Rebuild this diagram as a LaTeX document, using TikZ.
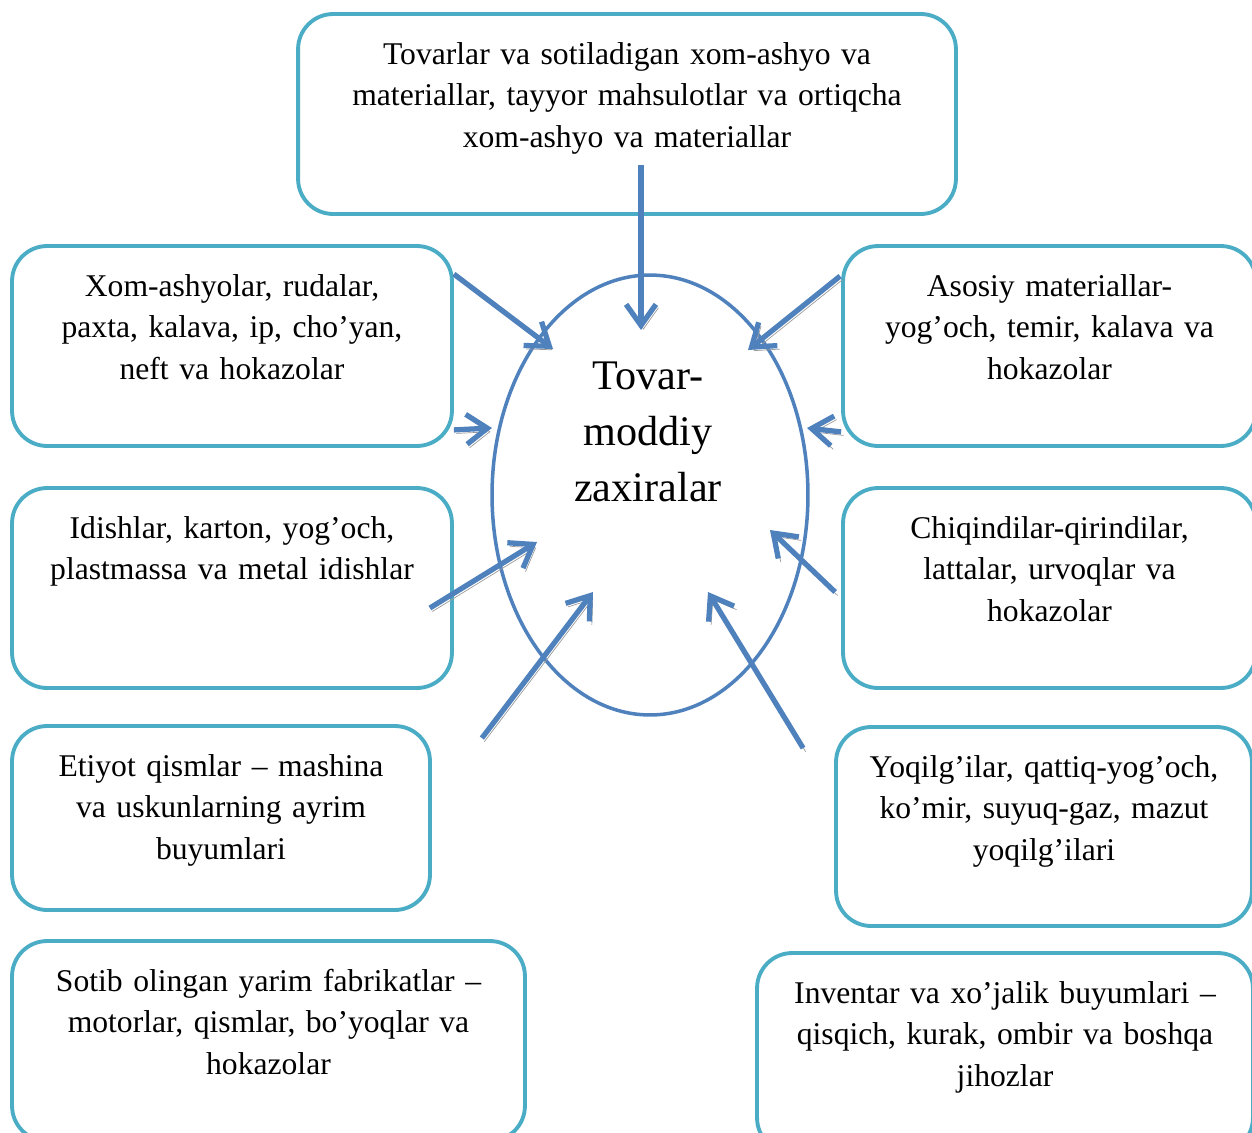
\documentclass[tikz,border=0pt]{standalone}
\usepackage{fontspec}
\setmainfont{Liberation Serif}
\usetikzlibrary{shapes.geometric,arrows.meta,calc}
\definecolor{boxline}{HTML}{4BACC6}
\definecolor{arrowblue}{HTML}{4F81BD}
\definecolor{shadowgray}{HTML}{9A9A9A}
\tikzset{
    itembox/.style={draw=boxline, line width=2.2pt, rounded corners=20pt, inner sep=0pt,
        align=center, text height=1cm, font=\fontsize{18}{23.8}\selectfont},
    flow/.style={draw=arrowblue, line width=3pt, -{Straight Barb[length=12pt,width=17pt]},
        preaction={draw=shadowgray, transform canvas={shift={(1.4pt,-2pt)}}}},
}
\begin{document}
\begin{tikzpicture}[x=0.02cm, y=-0.02cm]
        \useasboundingbox (0,0) rectangle (1252,1133);
        \node[itembox, text width=13.16cm, text depth=3cm] (supply) at (627,114)
            {Tovarlar va sotiladigan xom-ashyo va\\materiallar, tayyor mahsulotlar va ortiqcha\\xom-ashyo va materiallar};
        \node[itembox, text width=8.8cm, text depth=3cm] (raw) at (232,346)
            {Xom-ashyolar, rudalar,\\paxta, kalava, ip, cho’yan,\\neft va hokazolar};
        \node[itembox, text width=8.26cm, text depth=3cm] (basic) at (1049.5,346)
            {Asosiy materiallar-\\yog’och, temir, kalava va\\hokazolar};
        \node[itembox, text width=8.8cm, text depth=3cm] (tare) at (232,588)
            {Idishlar, karton, yog’och,\\plastmassa va metal idishlar};
        \node[itembox, text width=8.26cm, text depth=3cm] (scrap) at (1049.5,588)
            {Chiqindilar-qirindilar,\\lattalar, urvoqlar va\\hokazolar};
        \node[itembox, text width=8.36cm, text depth=2.68cm] (spare) at (221,818)
            {Etiyot qismlar – mashina\\va uskunlarning ayrim\\buyumlari};
        \node[itembox, text width=8.32cm, text depth=2.98cm] (fuel) at (1044,826.5)
            {Yoqilg’ilar, qattiq-yog’och,\\ko’mir, suyuq-gaz, mazut\\yoqilg’ilari};
        \node[itembox, text width=10.26cm, text depth=3cm] (semi) at (268.5,1041)
            {Sotib olingan yarim fabrikatlar –\\motorlar, qismlar, bo’yoqlar va\\hokazolar};
        \node[itembox, text width=9.92cm, text depth=3cm] (tools) at (1005,1053)
            {Inventar va xo’jalik buyumlari –\\qisqich, kurak, ombir va boshqa\\jihozlar};
        \node[ellipse, draw=arrowblue, line width=2pt, inner sep=0pt,
            minimum width=6.32cm, minimum height=8.8cm] (zax) at (650,495) {};
        \node[align=center, font=\fontsize{24}{31.7}\selectfont] (core) at (648,432)
            {Tovar-\\moddiy\\zaxiralar};
        \draw[flow] ($(supply.south)+(14,-51)$) -- ($(zax.center)+(-9,-165)$);
        \draw[flow] ($(raw.north east)+(0,30)$) -- ($(zax.center)+(-97,-146)$);
        \draw[flow] ($(raw.south east)+(0,-18)$) -- ($(zax.center)+(-158,-67)$);
        \draw[flow] ($(basic.north west)+(-1,32)$) -- ($(zax.center)+(98,-145)$);
        \draw[flow] ($(basic.south west)+(0,-16)$) -- ($(zax.center)+(157,-67)$);
        \draw[flow] ($(tare.east)+(-24,20)$) -- ($(zax.center)+(-113,47)$);
        \draw[flow] ($(spare.north east)+(50,14)$) -- ($(zax.center)+(-57,97)$);
        \draw[flow] ($(scrap.west)+(-6,4)$) -- ($(zax.center)+(120,35)$);
        \draw[flow] ($(fuel.north west)+(-31,23)$) -- ($(zax.center)+(58,97)$);
\end{tikzpicture}
\end{document}
